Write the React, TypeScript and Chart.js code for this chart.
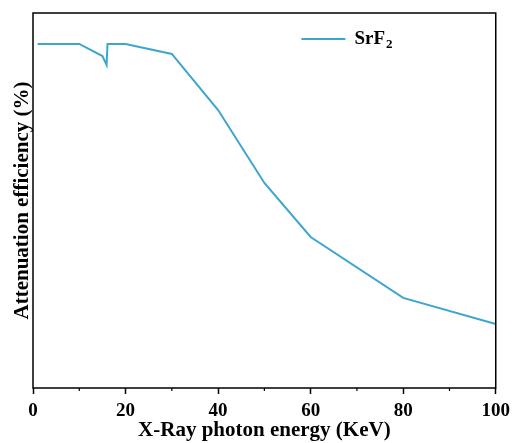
import React, { useEffect, useRef } from "react";
import { Chart, registerables } from "chart.js";

Chart.register(...registerables);

const seriesLabel = "SrF";
const seriesSub = "2";
const energies = [1, 10, 15, 15.9, 16.1, 20, 30, 40, 50, 60, 80, 100];
const attenuation = [100, 100, 96.5, 93.9, 100, 100, 97.1, 80.8, 59.6, 43.9, 26.2, 18.6];
const xTicks = [0, 20, 40, 60, 80, 100];
const xMinorTicks = [10, 30, 50, 70, 90];

const FONT = "'Liberation Serif', 'Times New Roman', serif";
const LINE = "rgb(62,165,205)";

const framePlugin = {
  id: "frame",
  afterDraw(chart: any) {
    const { ctx, chartArea } = chart;
    const xs = chart.scales.x;
    ctx.save();
    ctx.strokeStyle = "#000";
    ctx.lineWidth = 1.5;
    ctx.strokeRect(chartArea.left, chartArea.top, chartArea.right - chartArea.left, chartArea.bottom - chartArea.top);
    // minor ticks
    ctx.lineWidth = 1.2;
    xMinorTicks.forEach((v) => {
      const px = xs.getPixelForValue(v);
      ctx.beginPath();
      ctx.moveTo(px, chartArea.bottom);
      ctx.lineTo(px, chartArea.bottom + 3);
      ctx.stroke();
    });
    // legend
    const lx = chartArea.left + (chartArea.right - chartArea.left) * 0.58;
    const ly = chartArea.top + 26;
    ctx.strokeStyle = LINE;
    ctx.lineWidth = 2;
    ctx.beginPath();
    ctx.moveTo(lx, ly);
    ctx.lineTo(lx + 44, ly);
    ctx.stroke();
    ctx.fillStyle = "#000";
    ctx.textBaseline = "middle";
    ctx.font = `bold 19px ${FONT}`;
    const tx = lx + 53;
    ctx.fillText(seriesLabel, tx, ly);
    const w = ctx.measureText(seriesLabel).width;
    ctx.font = `bold 13px ${FONT}`;
    ctx.fillText(seriesSub, tx + w + 1, ly + 6);
    ctx.restore();
  },
};

export default function App() {
  const ref = useRef<HTMLCanvasElement>(null);
  useEffect(() => {
    if (!ref.current) return;
    const chart = new Chart(ref.current, {
      type: "line",
      data: {
        datasets: [
          {
            label: seriesLabel + seriesSub,
            data: energies.map((x, i) => ({ x, y: attenuation[i] })),
            borderColor: LINE,
            borderWidth: 2,
            pointRadius: 0,
            tension: 0,
            fill: false,
          },
        ],
      },
      options: {
        animation: false,
        responsive: false,
        layout: { padding: { top: 13, right: 19, left: 10, bottom: 0 } },
        plugins: { legend: { display: false }, tooltip: { enabled: false } },
        scales: {
          x: {
            type: "linear",
            min: 0,
            max: 100,
            afterBuildTicks: (s: any) => {
              s.ticks = xTicks.map((v) => ({ value: v }));
            },
            afterFit: (s: any) => {
              s.height = 55;
            },
            grid: { drawOnChartArea: false, drawTicks: true, tickLength: 6, tickColor: "#000", tickWidth: 1.5 },
            border: { display: false },
            ticks: {
              color: "#000",
              padding: 6,
              maxRotation: 0,
              font: { family: FONT, size: 19, weight: "bold" },
            },
            title: {
              display: true,
              text: "X-Ray photon energy (KeV)",
              color: "#000",
              padding: { top: 0, bottom: 0 },
              font: { family: FONT, size: 21, weight: "bold" },
            },
          },
          y: {
            min: 0,
            max: 109,
            afterFit: (s: any) => {
              s.width = 23;
            },
            grid: { display: false },
            border: { display: false },
            ticks: { display: false },
            title: {
              display: true,
              text: "Attenuation efficiency (%)",
              color: "#000",
              padding: { top: 0, bottom: 0 },
              font: { family: FONT, size: 21, weight: "bold" },
            },
          },
        },
      },
      plugins: [framePlugin],
    });
    return () => chart.destroy();
  }, []);
  return (
    <div style={{ position: "fixed", left: 0, top: 0, width: 516, height: 443, background: "#fff" }}>
      <canvas ref={ref} width={516} height={443} />
    </div>
  );
}
